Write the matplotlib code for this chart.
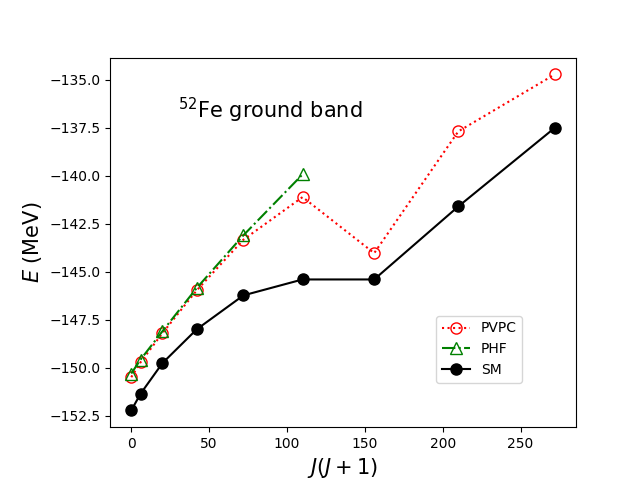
import numpy as np
import matplotlib
matplotlib.use('Agg')
import matplotlib.pyplot as plt

# J(J+1) for J = 0, 2, ..., 16
jj = np.array([0, 6, 20, 42, 72, 110, 156, 210, 272])

e_pvpc = [-150.49, -149.71, -148.2, -145.97, -143.33, -141.11, -144.03, -137.69, -134.72]
e_phf = [-150.3, -149.57, -148.1, -145.85, -143.1, -139.93]
e_sm = [-152.22, -151.35, -149.76, -148.0, -146.23, -145.4, -145.4, -141.6, -137.5]


def main():
    fig, ax = plt.subplots(figsize=(6.4, 4.8), dpi=100)
    fig.subplots_adjust(left=0.172)

    ax.plot(jj, e_pvpc, 'r:', marker='o', mfc='none', ms=8, label='PVPC')
    ax.plot(jj[:len(e_phf)], e_phf, 'g-.', marker='^', mfc='none', ms=8,
            label='PHF')
    ax.plot(jj, e_sm, 'k-', marker='o', ms=8, label='SM')

    ax.text(30, -137.0, r'$^{52}$Fe ground band', fontsize=15)
    ax.set_xlabel(r'$J(J+1)$', fontsize=15)
    ax.set_ylabel(r'$E$ (MeV)', fontsize=15)
    ax.legend(loc=(0.70, 0.12))

    fig.savefig('out.png')


if __name__ == '__main__':
    main()
